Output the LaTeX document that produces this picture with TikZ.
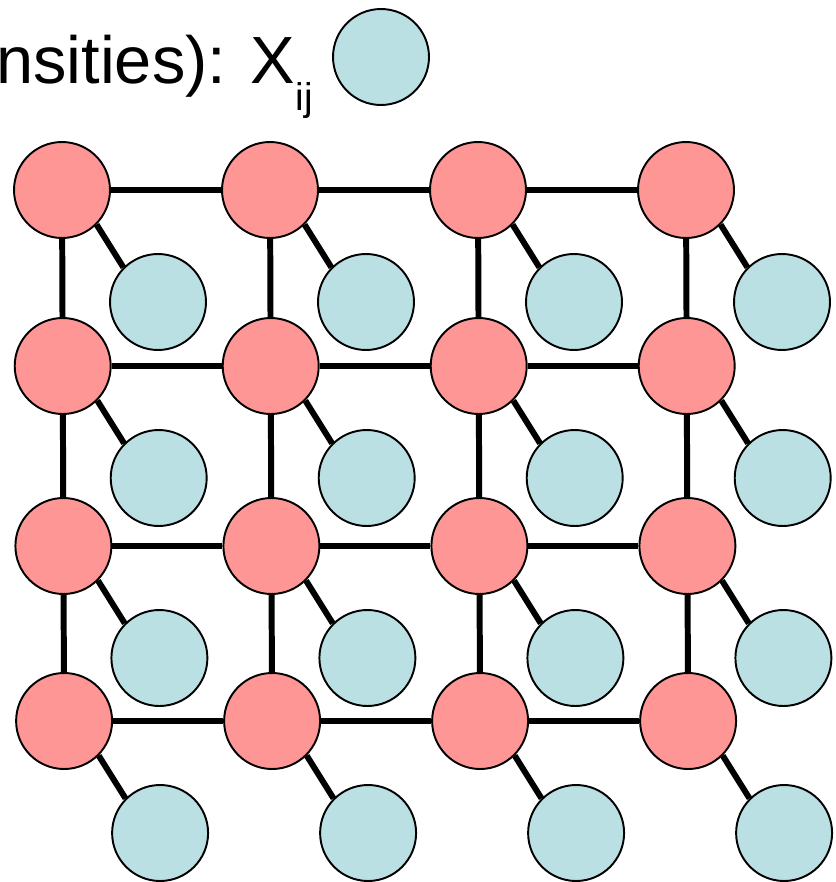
\documentclass[tikz,border=0pt]{standalone}
\usepackage{fontspec}
\setmainfont{Liberation Sans}
\usepackage{tikz}
\usetikzlibrary{math, calc}

\definecolor{hidden}{RGB}{255,150,150}
\definecolor{observed}{RGB}{187,224,227}

\tikzset{
  hid/.style={circle, draw=black, line width=1.1pt, fill=hidden, minimum size=1.92cm, inner sep=0pt},
  obs/.style={circle, draw=black, line width=1.1pt, fill=observed, minimum size=1.92cm, inner sep=0pt},
  link/.style={line width=3.4pt}
}

\begin{document}
\begin{tikzpicture}[x=0.02cm, y=-0.02cm]

  \useasboundingbox (0, 0) rectangle (835, 882);
  \clip (0, 0) rectangle (835, 882);

  % legend: observed intensity
  \node[anchor=base east, inner sep=0pt, font=\fontsize{38}{38}\selectfont] (legend)
       at (313, 84) {nsities): X\raisebox{-0.4em}{\fontsize{22}{22}\selectfont ij}};
  \node[obs] (xlegend) at (381, 57) {};

  % hidden grid and its observations
  \foreach \y [count=\i] in {190, 366, 546, 721} {
    \foreach \j in {1, ..., 4} {
      \pgfmathsetmacro{\x}{62 + 208 * (\j - 1) + 0.7 * (\i - 1)}
      \node[hid] (h\i\j) at (\x, \y) {};
      \node[obs] (x\i\j) at ({\x + 96}, {\y + 112}) {};
    }
  }

  % edges, cut at the node borders
  \foreach \i in {1, ..., 4} {
    \foreach \j in {1, ..., 4} {
      \draw[link] (h\i\j.south east) -- (x\i\j.north west);
    }
    \foreach \j/\k in {1/2, 2/3, 3/4} {
      \draw[link] (h\i\j) -- (h\i\k);
      \draw[link] (h\j\i) -- (h\k\i);
    }
  }

\end{tikzpicture}
\end{document}
